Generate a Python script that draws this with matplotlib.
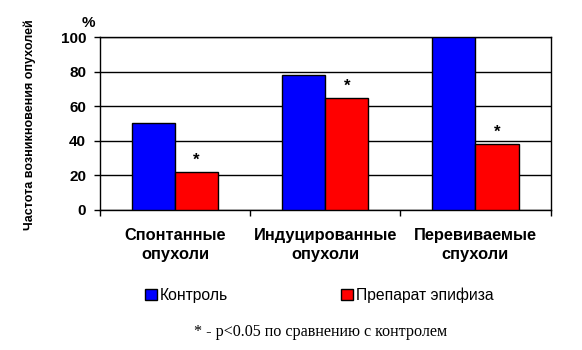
import numpy as np
import matplotlib
matplotlib.use('Agg')
import matplotlib.pyplot as plt
from matplotlib.patches import Patch

categories = ['Спонтанные\nопухоли', 'Индуцированные\nопухоли', 'Перевиваемые\nспухоли']
control = [50, 78, 100]
epiphysis = [22, 65, 38]
series_names = ['Контроль', 'Препарат эпифиза']
yticks = [0, 20, 40, 60, 80, 100]

plt.rcParams['font.family'] = ['Liberation Sans', 'DejaVu Sans']

W, H = 582, 350
fig = plt.figure(figsize=(W / 100, H / 100), dpi=100)
ax = fig.add_axes([100 / W, (H - 209.5) / H, 450.5 / W, 172.2 / H])

x = np.arange(len(categories))
w = 0.287
ax.bar(x - w / 2, control, w, color='#0000ff', edgecolor='black', linewidth=1, zorder=3)
ax.bar(x + w / 2, epiphysis, w, color='#ff0000', edgecolor='black', linewidth=1, zorder=3)

# significance marks over the red bars
for xi, v in zip(x, epiphysis):
    ax.annotate('*', (xi + w / 2, v), xytext=(0, 3), textcoords='offset points',
                ha='center', va='bottom', fontsize=12, fontweight='bold')

ax.set_xlim(-0.5, 2.5)
ax.set_ylim(0, 100)
ax.set_yticks(yticks)
ax.tick_params(axis='y', labelsize=11, length=4, width=1, pad=6)
for lbl in ax.get_yticklabels():
    lbl.set_fontweight('bold')
ax.grid(axis='y', color='black', linewidth=1, zorder=0)

ax.set_xticks(x)
ax.set_xticklabels(categories, fontsize=11.8, fontweight='bold', linespacing=1.4)
ax.tick_params(axis='x', which='major', length=0, pad=13)
ax.set_xticks([-0.5, 0.5, 1.5, 2.5], minor=True)
ax.tick_params(axis='x', which='minor', length=4, width=1)

for s in ax.spines.values():
    s.set_color('black')
    s.set_linewidth(1)

fig.text(88 / W, 1 - 23 / H, '%', fontsize=11, fontweight='bold', ha='center', va='center')
fig.text(30 / W, 1 - 125 / H, 'Частота возникновения опухолей', rotation=90,
         fontsize=9, fontweight='bold', ha='center', va='center')

handles = [Patch(facecolor='#0000ff', edgecolor='black'),
           Patch(facecolor='#ff0000', edgecolor='black')]
fig.legend(handles, series_names, loc='center left', bbox_to_anchor=(145 / W, 1 - 295 / H),
           ncol=2, frameon=False, fontsize=11.3, handlelength=0.75, handleheight=0.75,
           handletextpad=0.2, columnspacing=7.2, borderaxespad=0, borderpad=0)

fig.text(321 / W, 1 - 332 / H, '* - p<0.05 по сравнению с контролем',
         family=['Liberation Serif', 'DejaVu Serif'], fontsize=11.6, ha='center', va='center')

fig.savefig('out.png', dpi=100)
